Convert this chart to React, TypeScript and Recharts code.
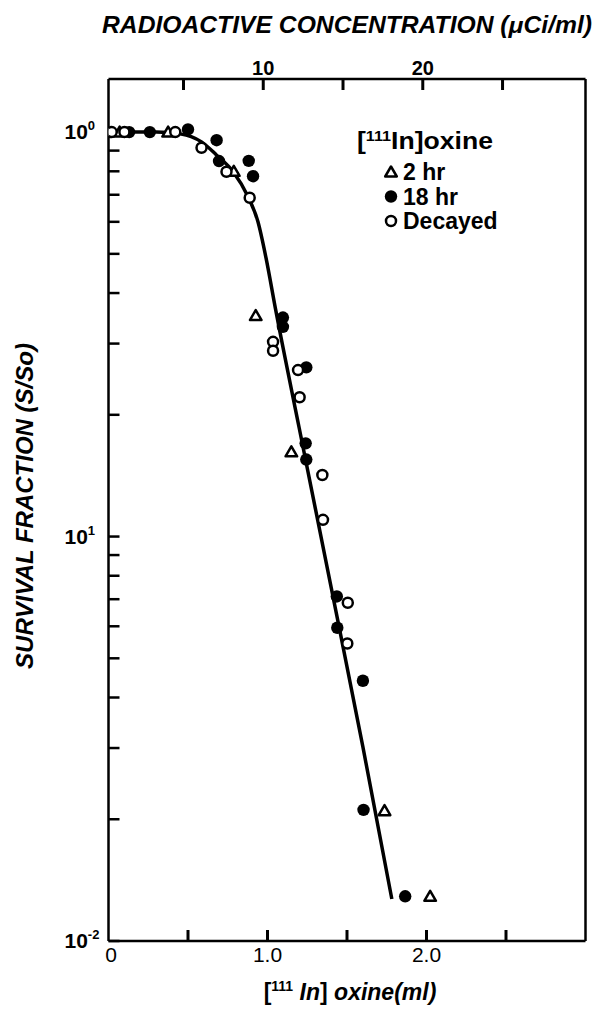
import { ComposedChart, Line, Scatter, XAxis, YAxis, Legend } from 'recharts';

const FONT = '"Liberation Sans", Arial, Helvetica, sans-serif';

// [111In]oxine (ml) vs survival fraction
const hr2Ml = [0.07, 0.375, 0.788, 0.926, 1.15, 1.736, 2.023];
const hr2Sf = [1.0, 1.0, 0.8, 0.352, 0.162, 0.021, 0.0129];

const hr18Ml = [0.13, 0.26, 0.5, 0.68, 0.695, 0.882, 0.909, 1.097, 1.097, 1.244, 1.24, 1.244, 1.436, 1.439, 1.6, 1.604, 1.866];
const hr18Sf = [1.0, 1.0, 1.015, 0.955, 0.848, 0.849, 0.778, 0.348, 0.33, 0.262, 0.17, 0.155, 0.0711, 0.0595, 0.044, 0.0211, 0.0129];

const decayedMl = [0.02, 0.1, 0.42, 0.585, 0.742, 0.888, 1.035, 1.035, 1.192, 1.202, 1.345, 1.349, 1.505, 1.502];
const decayedSf = [1.0, 1.0, 1.0, 0.915, 0.798, 0.688, 0.303, 0.288, 0.258, 0.221, 0.142, 0.11, 0.0686, 0.0544];

// fitted curve
const curveMl = [0, 0.3, 0.45, 0.52, 0.585, 0.68, 0.784, 0.878, 0.94, 0.99, 1.05, 1.2, 1.4, 1.6, 1.782];
const curveSf = [1.0, 1.0, 0.99, 0.975, 0.946, 0.877, 0.798, 0.692, 0.6, 0.49, 0.366, 0.185, 0.075, 0.0302, 0.0127];

const legendOrder = ['2 hr', '18 hr', 'Decayed'];

const xTicks = [0.5, 1, 1.5, 2, 2.5];
const xTickLabels = ['', '1.0', '', '2.0', ''];
const topTicks = [5, 10, 15, 20, 25];
const topTickLabels = ['', '10', '', '20', ''];
const yTicks = [
  0.01, 0.02, 0.03, 0.04, 0.05, 0.06, 0.07, 0.08, 0.09,
  0.1, 0.2, 0.3, 0.4, 0.5, 0.6, 0.7, 0.8, 0.9, 1,
];
const yLabelValues = [1, 0.1, 0.01];
const yLabelExps = ['0', '1', '-2'];

const zip = (ml: number[], sf: number[]) => ml.map((m, i) => ({ ml: m, sf: sf[i] }));
const hr2 = zip(hr2Ml, hr2Sf);
const hr18 = zip(hr18Ml, hr18Sf);
const decayed = zip(decayedMl, decayedSf);
const curve = zip(curveMl, curveSf);
// gives the concentration axis something to scale against (draws nothing)
const topAxisData = topTicks.map((t) => ({ uci: t, sf: 1 }));

const AXIS = { stroke: '#000', strokeWidth: 2.5 };
const X_TICK = { stroke: '#000', strokeWidth: 3 };
const TICK_IN = -11; // ticks point into the plot

const Triangle = ({ cx, cy }: any) => (
  <path
    d={`M${cx},${cy - 5.5} L${cx + 5.8},${cy + 4.5} L${cx - 5.8},${cy + 4.5} Z`}
    fill="#fff"
    stroke="#000"
    strokeWidth={2.5}
    strokeLinejoin="round"
  />
);
const Dot = ({ cx, cy }: any) => <circle cx={cx} cy={cy} r={6.2} fill="#000" />;
const Ring = ({ cx, cy }: any) => (
  <circle cx={cx} cy={cy} r={5} fill="#fff" stroke="#000" strokeWidth={2.5} />
);
const Nothing = () => <g />;

// y arrives at the inner end of the tick line (axis - 11)
const BottomTick = ({ x, y, payload }: any) => {
  const label = xTickLabels[xTicks.indexOf(payload.value)];
  if (!label) return <g />;
  return (
    <text x={x} y={Number(y) + 32} textAnchor="middle" fontSize={21} fontFamily={FONT} fill="#000">
      {label}
    </text>
  );
};

// y arrives at axis + 11
const TopTick = ({ x, y, payload }: any) => {
  const label = topTickLabels[topTicks.indexOf(payload.value)];
  if (!label) return <g />;
  return (
    <text x={x} y={Number(y) - 15} textAnchor="middle" fontSize={20} fontWeight="bold" fontFamily={FONT} fill="#000">
      {label}
    </text>
  );
};

// x arrives at axis + 11
const LeftTick = ({ x, y, payload }: any) => {
  const idx = yLabelValues.findIndex((v) => Math.abs(v - payload.value) < 1e-9);
  if (idx < 0) return <g />;
  return (
    <text x={Number(x) - 55} y={Number(y) + 7} fontSize={21} fontWeight="bold" fontFamily={FONT} fill="#000">
      10
      <tspan dy={-9} fontSize={13}>
        {yLabelExps[idx]}
      </tspan>
    </text>
  );
};

const icons: Record<string, (cx: number, cy: number) => any> = {
  '2 hr': (cx, cy) => <Triangle cx={cx} cy={cy} />,
  '18 hr': (cx, cy) => <Dot cx={cx} cy={cy} />,
  Decayed: (cx, cy) => <Ring cx={cx} cy={cy} />,
};

const LegendBox = ({ payload }: any) => {
  const items = (payload || [])
    .filter((p: any) => icons[p.value])
    .sort((a: any, b: any) => legendOrder.indexOf(a.value) - legendOrder.indexOf(b.value));
  return (
    <svg width={180} height={115} style={{ display: 'block', overflow: 'visible' }}>
      <text x={1} y={21} fontSize={23} fontWeight="bold" fontFamily={FONT} fill="#000" textLength={136} lengthAdjust="spacingAndGlyphs">
        [<tspan dy={-8} fontSize={14}>111</tspan>
        <tspan dy={8}>In]oxine</tspan>
      </text>
      {items.map((p: any, i: number) => {
        const cy = 44 + i * 24.5;
        return (
          <g key={p.value}>
            {icons[p.value](35, cy)}
            <text x={47} y={cy + 8} fontSize={23} fontWeight="bold" fontFamily={FONT} fill="#000">
              {p.value}
            </text>
          </g>
        );
      })}
    </svg>
  );
};

export default function App() {
  const titleStyle = { fontFamily: FONT, fontWeight: 'bold' as const, fontStyle: 'italic' as const };
  return (
    <div style={{ position: 'absolute', left: 0, top: 0, width: 595, height: 1013, background: '#fff' }}>
      <ComposedChart width={595} height={1013} margin={{ top: 0, right: 8.5, bottom: 0, left: 0 }}>
        <XAxis
          dataKey="ml"
          type="number"
          domain={[0, 3]}
          allowDataOverflow
          ticks={xTicks}
          interval={0}
          height={72}
          tickSize={TICK_IN}
          tickMargin={0}
          tickLine={X_TICK}
          tick={<BottomTick />}
          axisLine={AXIS}
        />
        <XAxis
          xAxisId="top"
          dataKey="uci"
          orientation="top"
          type="number"
          domain={[0.3, 30.2]}
          allowDataOverflow
          ticks={topTicks}
          interval={0}
          height={79}
          tickSize={TICK_IN}
          tickMargin={0}
          tickLine={X_TICK}
          tick={<TopTick />}
          axisLine={AXIS}
        />
        <YAxis
          dataKey="sf"
          scale="log"
          type="number"
          domain={[0.01, 1.353]}
          allowDataOverflow
          ticks={yTicks}
          interval={0}
          width={108.5}
          tickSize={-11}
          tickMargin={0}
          tickLine={AXIS}
          tick={<LeftTick />}
          axisLine={AXIS}
        />
        <YAxis
          yAxisId="right"
          orientation="right"
          type="number"
          domain={[0, 1]}
          allowDataOverflow
          width={1}
          tick={false}
          tickLine={false}
          axisLine={AXIS}
        />
        <Legend
          layout="horizontal"
          verticalAlign="middle"
          align="center"
          content={<LegendBox />}
          wrapperStyle={{ left: 356, top: 128, width: 180, height: 115 }}
        />
        <Scatter
          xAxisId="top"
          data={topAxisData}
          dataKey="sf"
          shape={<Nothing />}
          legendType="none"
          isAnimationActive={false}
        />
        <Line
          data={curve}
          dataKey="sf"
          type="monotone"
          stroke="#000"
          strokeWidth={3.5}
          dot={false}
          legendType="none"
          isAnimationActive={false}
        />
        <Scatter name="2 hr" data={hr2} dataKey="sf" shape={<Triangle />} isAnimationActive={false} />
        <Scatter name="18 hr" data={hr18} dataKey="sf" shape={<Dot />} isAnimationActive={false} />
        <Scatter name="Decayed" data={decayed} dataKey="sf" shape={<Ring />} isAnimationActive={false} />
      </ComposedChart>
      <svg
        width={595}
        height={1013}
        style={{ position: 'absolute', left: 0, top: 0, pointerEvents: 'none' }}
      >
        <text x={102} y={33} fontSize={23} textLength={490} lengthAdjust="spacingAndGlyphs" fill="#000" {...titleStyle}>
          RADIOACTIVE CONCENTRATION (μCi/ml)
        </text>
        <text transform="translate(33, 506) rotate(-90)" textAnchor="middle" fontSize={24} fill="#000" {...titleStyle}>
          SURVIVAL FRACTION (S/So)
        </text>
        <text x={111} y={962} textAnchor="middle" fontSize={21} fontFamily={FONT} fill="#000">
          0
        </text>
        <text x={350} y={1000} textAnchor="middle" fontSize={23} fill="#000" {...titleStyle}>
          <tspan fontStyle="normal">[</tspan>
          <tspan dy={-9} fontSize={14} fontStyle="normal">111</tspan>
          <tspan dy={9}> In</tspan>
          <tspan fontStyle="normal">]</tspan>
          <tspan> oxine(ml)</tspan>
        </text>
      </svg>
    </div>
  );
}
